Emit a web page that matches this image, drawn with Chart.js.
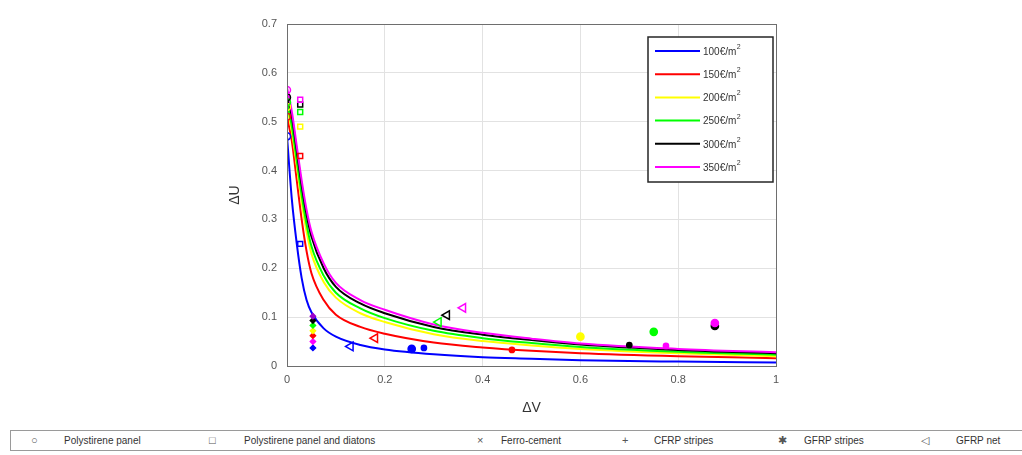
<!DOCTYPE html>
<html>
<head>
<meta charset="utf-8">
<script src="https://cdn.jsdelivr.net/npm/chart.js@4"></script>
<style>
  body { margin: 0; width: 1022px; height: 455px; overflow: hidden; background: #fff; font-family: "Liberation Sans", Arial, sans-serif; }
  #wrap { position: absolute; left: 0; top: 0; width: 1022px; height: 425px; }
  #techLegend { position: absolute; left: 10px; top: 430px; width: 1100px; height: 21px; border: 1px solid #9a9a9a; box-sizing: border-box; font-size: 10px; color: #333; }
  #techLegend span { position: absolute; top: 4px; white-space: nowrap; }
  #techLegend span.sym { color: #555; font-size: 11px; top: 3px; }
</style>
</head>
<body>
<div id="wrap"><canvas id="chart" width="1022" height="425"></canvas></div>
<div id="techLegend"></div>
<script>
// cost curves, sampled along dV
const curveX = [0, 0.01, 0.02, 0.03, 0.04, 0.05, 0.075, 0.1, 0.15, 0.2, 0.3, 0.4, 0.5, 0.6, 0.8, 1];
const curve100 = [0.47, 0.34, 0.25, 0.18, 0.135, 0.11, 0.077, 0.06, 0.043, 0.034, 0.024, 0.018, 0.015, 0.012, 0.009, 0.007];
const curve150 = [0.51, 0.46, 0.38, 0.3, 0.235, 0.19, 0.135, 0.105, 0.08, 0.066, 0.048, 0.038, 0.031, 0.026, 0.02, 0.016];
const curve200 = [0.53, 0.48, 0.41, 0.335, 0.275, 0.23, 0.172, 0.14, 0.108, 0.09, 0.065, 0.051, 0.042, 0.035, 0.026, 0.02];
const curve250 = [0.54, 0.49, 0.42, 0.35, 0.29, 0.245, 0.185, 0.15, 0.118, 0.098, 0.072, 0.057, 0.047, 0.039, 0.029, 0.023];
const curve300 = [0.555, 0.51, 0.44, 0.37, 0.31, 0.265, 0.2, 0.162, 0.128, 0.108, 0.08, 0.064, 0.053, 0.044, 0.033, 0.026];
const curve350 = [0.57, 0.52, 0.45, 0.38, 0.32, 0.275, 0.21, 0.17, 0.135, 0.115, 0.085, 0.068, 0.056, 0.046, 0.035, 0.028];
const costLabels = ['100€/m', '150€/m', '200€/m', '250€/m', '300€/m', '350€/m'];
const costColors = ['#0000ff', '#ff0000', '#ffff00', '#00ff00', '#000000', '#ff00ff'];

// retrofitting techniques (points)
const panelX = [0, 0, 0, 0, 0, 0];
const panelY = [0.47, 0.51, 0.53, 0.54, 0.55, 0.565];
const panelC = ['#0000ff', '#ff0000', '#ffff00', '#00ff00', '#000000', '#ff00ff'];

const diatonsX = [0.027, 0.027, 0.027, 0.027, 0.027, 0.027];
const diatonsY = [0.25, 0.43, 0.49, 0.52, 0.535, 0.545];
const diatonsC = ['#0000ff', '#ff0000', '#ffff00', '#00ff00', '#000000', '#ff00ff'];

const ferroX = [0.053, 0.053, 0.053, 0.053, 0.053, 0.053, 0.053];
const ferroY = [0.037, 0.05, 0.062, 0.072, 0.083, 0.093, 0.102];
const ferroC = ['#0000ff', '#ff00ff', '#ff0000', '#ffff00', '#00ff00', '#000000', '#9900cc'];

const cfrpX = [0.28, 0.46, 0.7, 0.775];
const cfrpY = [0.037, 0.033, 0.043, 0.041];
const cfrpC = ['#0000ff', '#ff0000', '#000000', '#ff00ff'];

const gfrpX = [0.255, 0.6, 0.75, 0.875, 0.875];
const gfrpY = [0.035, 0.06, 0.07, 0.082, 0.088];
const gfrpC = ['#0000ff', '#ffff00', '#00ff00', '#000000', '#ff00ff'];

const netX = [0.13, 0.18, 0.31, 0.327, 0.36];
const netY = [0.04, 0.057, 0.09, 0.104, 0.119];
const netC = ['#0000ff', '#ff0000', '#00ff00', '#000000', '#ff00ff'];

const xTicks = [0, 0.2, 0.4, 0.6, 0.8, 1];
const xTickLabels = ['0', '0.2', '0.4', '0.6', '0.8', '1'];
const yTicks = [0, 0.1, 0.2, 0.3, 0.4, 0.5, 0.6, 0.7];
const yTickLabels = ['0', '0.1', '0.2', '0.3', '0.4', '0.5', '0.6', '0.7'];

const techNames = ['Polystirene panel', 'Polystirene panel and diatons', 'Ferro-cement', 'CFRP stripes', 'GFRP stripes', 'GFRP net'];
const techSymbols = ['○', '□', '×', '+', '✱', '◁'];

function pts(xs, ys) {
  return xs.map((x, i) => ({ x: x, y: ys[i] }));
}

const curves = [curve100, curve150, curve200, curve250, curve300, curve350];
const datasets = [];

function addPoints(xs, ys, cs, style, filled, radius, rot) {
  datasets.push({
    data: pts(xs, ys),
    showLine: false,
    pointStyle: style,
    pointRadius: radius,
    pointRotation: rot || 0,
    pointBorderWidth: 1.5,
    pointBorderColor: cs,
    pointBackgroundColor: filled ? cs : 'rgba(0,0,0,0)',
    order: 0
  });
}
addPoints(panelX, panelY, panelC, 'circle', false, 3.5);
addPoints(diatonsX, diatonsY, diatonsC, 'rect', false, 3.5);
addPoints(ferroX, ferroY, ferroC, 'rectRot', true, 2.6);
addPoints(cfrpX, cfrpY, cfrpC, 'circle', true, 2.6);
addPoints(gfrpX, gfrpY, gfrpC, 'circle', true, 3.6);
addPoints(netX, netY, netC, 'triangle', false, 5, -90);

curves.forEach((c, i) => {
  datasets.push({
    label: costLabels[i],
    data: pts(curveX, c),
    showLine: true,
    borderColor: costColors[i],
    borderWidth: 2,
    pointRadius: 0,
    cubicInterpolationMode: 'monotone',
    order: 7 - i
  });
});

const boxPlugin = {
  id: 'box',
  afterDatasetsDraw(chart) {
    const a = chart.chartArea, ctx = chart.ctx;
    ctx.save();
    ctx.strokeStyle = '#6e6e6e';
    ctx.lineWidth = 1;
    ctx.strokeRect(a.left + 0.5, a.top + 0.5, a.right - a.left, a.bottom - a.top);

    // cost legend box
    const bx = a.right - 128, by = a.top + 13, bw = 125, bh = 145;
    ctx.fillStyle = '#fff';
    ctx.fillRect(bx, by, bw, bh);
    ctx.strokeStyle = '#262626';
    ctx.lineWidth = 1.5;
    ctx.strokeRect(bx, by, bw, bh);
    ctx.textBaseline = 'middle';
    costLabels.forEach((lab, i) => {
      const y = by + 14 + i * 23.2;
      ctx.strokeStyle = costColors[i];
      ctx.lineWidth = 2;
      ctx.beginPath();
      ctx.moveTo(bx + 7, y);
      ctx.lineTo(bx + 52, y);
      ctx.stroke();
      ctx.fillStyle = '#333';
      ctx.font = '10px "Liberation Sans", Arial, sans-serif';
      ctx.fillText(lab, bx + 55, y + 1);
      const w = ctx.measureText(lab).width;
      ctx.font = '7px "Liberation Sans", Arial, sans-serif';
      ctx.fillText('2', bx + 55 + w + 0.5, y - 4);
    });
    ctx.restore();
  }
};

const tickFont = { size: 11, family: '"Liberation Sans", Arial, sans-serif' };

new Chart(document.getElementById('chart'), {
  type: 'scatter',
  data: { datasets: datasets },
  options: {
    responsive: false,
    animation: false,
    layout: { padding: { left: 227, right: 246, top: 24, bottom: 5 } },
    plugins: { legend: { display: false }, tooltip: { enabled: false } },
    scales: {
      x: {
        type: 'linear', min: 0, max: 1,
        afterFit(s) { s.height = 54; },
        afterBuildTicks(s) { s.ticks = xTicks.map(v => ({ value: v })); },
        grid: { color: '#e2e2e2', drawTicks: false },
        border: { display: false },
        ticks: { padding: 7, color: '#555', font: tickFont, callback: (v, i) => xTickLabels[i] },
        title: { display: true, text: 'ΔV', color: '#333', padding: { top: 0, bottom: 3 }, font: { size: 14, family: '"Liberation Sans", Arial, sans-serif' } }
      },
      y: {
        type: 'linear', min: 0, max: 0.7,
        afterFit(s) { s.width = 60; },
        afterBuildTicks(s) { s.ticks = yTicks.map(v => ({ value: v })); },
        grid: { color: '#e2e2e2', drawTicks: false },
        border: { display: false },
        ticks: { padding: 10, color: '#555', font: tickFont, callback: (v, i) => yTickLabels[i] },
        title: { display: true, text: 'ΔU', color: '#333', padding: 0, font: { size: 14, family: '"Liberation Sans", Arial, sans-serif' } }
      }
    }
  },
  plugins: [boxPlugin]
});

// technique legend under the plot
const symLeft = [20, 198, 466, 611, 767, 910];
const textLeft = [53, 233, 490, 643, 793, 945];
const leg = document.getElementById('techLegend');
techNames.forEach((n, i) => {
  const s = document.createElement('span');
  s.className = 'sym';
  s.textContent = techSymbols[i];
  s.style.left = symLeft[i] + 'px';
  leg.appendChild(s);
  const t = document.createElement('span');
  t.textContent = n;
  t.style.left = textLeft[i] + 'px';
  leg.appendChild(t);
});
</script>
</body>
</html>
